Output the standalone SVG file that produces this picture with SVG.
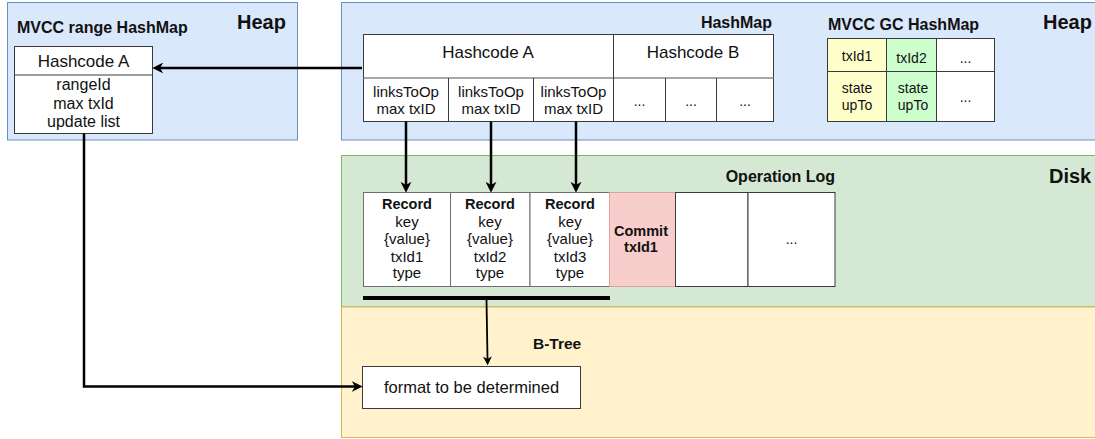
<svg xmlns="http://www.w3.org/2000/svg" width="1095" height="439" viewBox="0 0 1095 439">
  <style>
    text { font-family: "Liberation Sans", Arial, sans-serif; fill: #111111; }
    .title { font-size: 16px; font-weight: bold; }
    .zone { font-size: 20px; font-weight: bold; }
    .head { font-size: 17px; text-anchor: middle; }
    .cell { font-size: 15px; text-anchor: middle; }
    .small { font-size: 14px; text-anchor: middle; }
    .bold { font-weight: bold; }
    .heap { fill: #dae8fc; stroke: #6c8ebf; stroke-width: 1; }
    .disk { fill: #d5e8d4; stroke: #82b366; stroke-width: 1; }
    .btree { fill: #fff2cc; stroke: #d6b656; stroke-width: 1; }
    .box { fill: #ffffff; stroke: #3a3a3a; stroke-width: 1; }
    .rec { fill: #ffffff; stroke: #6f6f6f; stroke-width: 1; }
    .sep { stroke: #3a3a3a; stroke-width: 1; fill: none; }
    .sepgray { stroke: #8a8a8a; stroke-width: 1.5; fill: none; }
    .edge { stroke: #000000; stroke-width: 2.5; fill: none; }
  </style>
  <defs>
    <marker id="arrow" viewBox="0 0 10 10" refX="3" refY="5" markerWidth="11" markerHeight="11" markerUnits="userSpaceOnUse" orient="auto">
      <path d="M0,0 L10,5 L0,10 L3,5 Z" fill="#000000"/>
    </marker>
    <marker id="arrowSmall" viewBox="0 0 10 10" refX="3" refY="5" markerWidth="9" markerHeight="9" markerUnits="userSpaceOnUse" orient="auto">
      <path d="M0,0 L10,5 L0,10 L3,5 Z" fill="#000000"/>
    </marker>
  </defs>

  <!-- storage zones -->
  <g id="zones">
    <rect class="heap" x="7.5" y="2.5" width="290" height="137.5"/>
    <rect class="heap" x="341.5" y="2.5" width="760" height="137.5"/>
    <rect class="disk" x="341.5" y="155.5" width="760" height="151.5"/>
    <rect class="btree" x="341.5" y="307" width="760" height="130.5"/>
    <text class="zone" x="237" y="29">Heap</text>
    <text class="zone" x="1043" y="29">Heap</text>
    <text class="zone" x="1049" y="183">Disk</text>
    <text class="title" x="17" y="33">MVCC range HashMap</text>
    <text class="title" x="772" y="28" text-anchor="end">HashMap</text>
    <text class="title" x="828" y="30">MVCC GC HashMap</text>
    <text class="title" x="835" y="182" text-anchor="end">Operation Log</text>
    <text class="title" x="533" y="349" style="font-size:15.5px">B-Tree</text>
  </g>

  <!-- MVCC range HashMap entry -->
  <g id="range-entry">
    <rect class="box" x="14.5" y="46.5" width="138" height="87"/>
    <line class="sep" x1="14.5" y1="75" x2="152.5" y2="75"/>
    <text class="head" x="83.5" y="67">Hashcode A</text>
    <text class="cell" x="83.5" y="90" style="font-size:16px">rangeId</text>
    <text class="cell" x="83.5" y="109" style="font-size:16px">max txId</text>
    <text class="cell" x="83.5" y="127" style="font-size:16px">update list</text>
  </g>

  <!-- HashMap with buckets -->
  <g id="hashmap">
    <rect class="box" x="363.5" y="34.5" width="410" height="87"/>
    <line class="sepgray" x1="363.5" y1="78" x2="773.5" y2="78"/>
    <line class="sep" x1="613.5" y1="34.5" x2="613.5" y2="121.5"/>
    <line class="sep" x1="448.5" y1="78" x2="448.5" y2="121.5"/>
    <line class="sep" x1="533.5" y1="78" x2="533.5" y2="121.5"/>
    <line class="sep" x1="665.5" y1="78" x2="665.5" y2="121.5"/>
    <line class="sep" x1="716.5" y1="78" x2="716.5" y2="121.5"/>
    <text class="head" x="488" y="58">Hashcode A</text>
    <text class="head" x="693" y="58">Hashcode B</text>
    <text class="cell" x="406" y="97">linksToOp</text>
    <text class="cell" x="406" y="114">max txID</text>
    <text class="cell" x="491" y="97">linksToOp</text>
    <text class="cell" x="491" y="114">max txID</text>
    <text class="cell" x="573.5" y="97">linksToOp</text>
    <text class="cell" x="573.5" y="114">max txID</text>
    <text class="small" x="639.5" y="106">...</text>
    <text class="small" x="691" y="106">...</text>
    <text class="small" x="745" y="106">...</text>
  </g>

  <!-- MVCC GC HashMap -->
  <g id="gc-hashmap">
    <rect x="827.5" y="38.5" width="59" height="33" fill="#ffffcc" stroke="#3a3a3a"/>
    <rect x="886.5" y="38.5" width="50" height="33" fill="#ccffcc" stroke="#3a3a3a"/>
    <rect x="936.5" y="38.5" width="58" height="33" fill="#ffffff" stroke="#3a3a3a"/>
    <rect x="827.5" y="71.5" width="59" height="50" fill="#ffffcc" stroke="#3a3a3a"/>
    <rect x="886.5" y="71.5" width="50" height="50" fill="#ccffcc" stroke="#3a3a3a"/>
    <rect x="936.5" y="71.5" width="58" height="50" fill="#ffffff" stroke="#3a3a3a"/>
    <text class="small" x="857" y="61">txId1</text>
    <text class="small" x="911.5" y="63">txId2</text>
    <text class="small" x="965.5" y="63">...</text>
    <text class="small" x="857" y="93">state</text>
    <text class="small" x="857" y="110">upTo</text>
    <text class="small" x="913" y="93">state</text>
    <text class="small" x="913" y="110">upTo</text>
    <text class="small" x="965.5" y="102">...</text>
  </g>

  <!-- Operation log -->
  <g id="oplog">
    <rect class="rec" x="363.5" y="192.5" width="87" height="94"/>
    <rect class="rec" x="450.5" y="192.5" width="79.5" height="94"/>
    <rect class="rec" x="530" y="192.5" width="79.5" height="94"/>
    <rect x="609.5" y="192.5" width="66" height="94" fill="#f8cecc" stroke="#e0a09e"/>
    <rect class="box" x="675.5" y="192.5" width="72.5" height="94"/>
    <rect class="box" x="748" y="192.5" width="87" height="94"/>

    <text class="cell bold" x="407" y="209" style="font-size:14.5px">Record</text>
    <text class="cell" x="407" y="226.5">key</text>
    <text class="cell" x="407" y="244">{value}</text>
    <text class="cell" x="407" y="261.5">txId1</text>
    <text class="cell" x="407" y="278">type</text>

    <text class="cell bold" x="490" y="209" style="font-size:14.5px">Record</text>
    <text class="cell" x="490" y="226.5">key</text>
    <text class="cell" x="490" y="244">{value}</text>
    <text class="cell" x="490" y="261.5">txId2</text>
    <text class="cell" x="490" y="278">type</text>

    <text class="cell bold" x="570" y="209" style="font-size:14.5px">Record</text>
    <text class="cell" x="570" y="226.5">key</text>
    <text class="cell" x="570" y="244">{value}</text>
    <text class="cell" x="570" y="261.5">txId3</text>
    <text class="cell" x="570" y="278">type</text>

    <text class="cell bold" x="641" y="236" style="font-size:14.5px">Commit</text>
    <text class="cell bold" x="641" y="252" style="font-size:14.5px">txId1</text>
    <text class="small" x="791.5" y="244">...</text>
  </g>

  <!-- B-Tree storage -->
  <g id="btree-node">
    <rect class="box" x="362.5" y="366.5" width="218" height="42"/>
    <text class="cell" x="471.5" y="393" style="font-size:16.5px">format to be determined</text>
  </g>

  <!-- connectors -->
  <g id="connectors">
    <line x1="363" y1="298" x2="610" y2="298" stroke="#000000" stroke-width="4"/>
    <path class="edge" d="M362,68 L160,68" marker-end="url(#arrow)"/>
    <path class="edge" d="M406,121.5 L406,185" marker-end="url(#arrow)"/>
    <path class="edge" d="M491,121.5 L491,185" marker-end="url(#arrow)"/>
    <path class="edge" d="M576,121.5 L576,185" marker-end="url(#arrow)"/>
    <path class="edge" d="M84,133.5 L84,386.5 L355,386.5" marker-end="url(#arrow)"/>
    <path d="M486.5,300 L487.5,359" stroke="#000000" stroke-width="1.8" fill="none" marker-end="url(#arrowSmall)"/>
  </g>
</svg>
